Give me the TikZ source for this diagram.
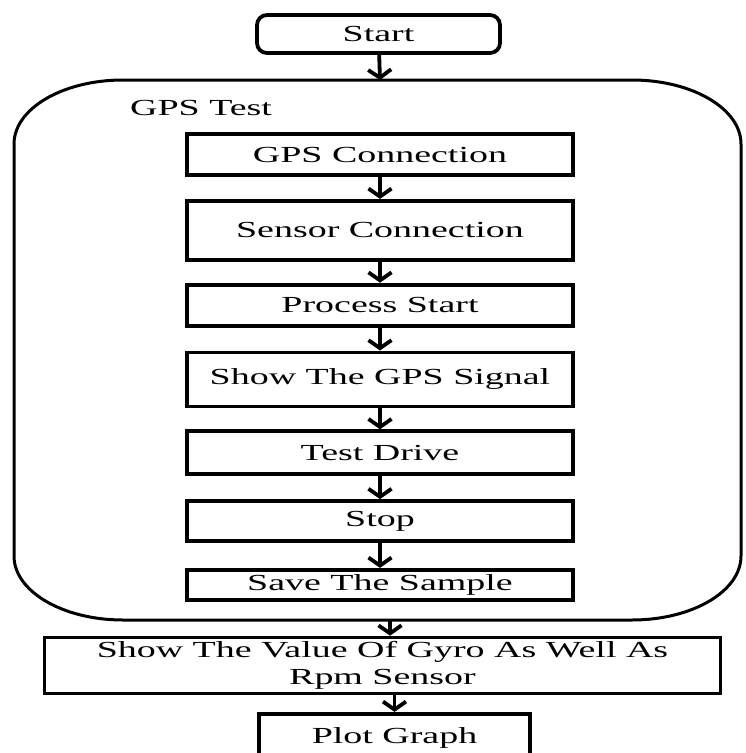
\documentclass[tikz,border=0pt]{standalone}
\usepackage{fontspec}
\setmainfont{Liberation Serif}[FakeStretch=1.65]
\usetikzlibrary{arrows.meta,positioning}

\begin{document}
\begin{tikzpicture}[x=1pt, y=1pt, node distance=22pt,
    every node/.style={font=\fontsize{23}{27}\selectfont},
    flowbox/.style={draw, line width=3.8pt, minimum width=386pt, inner sep=0pt, align=center},
    flowarrow/.style={line width=3.8pt, -{Straight Barb[length=8pt,width=23pt]}}]
  \useasboundingbox (0,0) rectangle (745,-753);

  \node[flowbox, rounded corners=10pt, minimum width=243pt, minimum height=38pt] (start) at (378.5,-34) {Start};

  % the GPS test block
  \coordinate (testtop) at (380,-80);
  \coordinate (testbot) at (390,-620);
  \draw[line width=3pt] (123,-80) -- (632,-80)
    arc[start angle=90, end angle=0, x radius=109, y radius=64] -- (741,-556)
    arc[start angle=0, end angle=-90, x radius=109, y radius=64] -- (123,-620)
    arc[start angle=270, end angle=180, x radius=109, y radius=64] -- (14,-144)
    arc[start angle=180, end angle=90, x radius=109, y radius=64] -- cycle;
  \node[anchor=west, inner sep=0pt] (testlabel) at (130,-108) {GPS Test};

  \node[flowbox, minimum height=41pt] (gps) at (380,-154.5) {GPS Connection};
  \node[flowbox, minimum height=59pt] (sensor) [below=22pt of gps] {Sensor Connection};
  \node[flowbox, minimum height=41pt] (process) [below=21pt of sensor] {Process Start};
  \node[flowbox, minimum height=54pt] (signal) [below=23pt of process] {Show The GPS Signal};
  \node[flowbox, minimum height=43pt] (drive) [below=21pt of signal] {Test Drive};
  \node[flowbox, minimum height=40pt] (stop) [below=23pt of drive] {Stop};
  \node[flowbox, minimum height=30pt] (save) [below=25pt of stop] {Save The Sample};

  \node[flowbox, line width=3.2pt, minimum width=676pt, minimum height=56pt] (gyro) [below=34pt of save, xshift=2.5pt]
    {Show The Value Of Gyro As Well As\\Rpm Sensor};
  \node[flowbox, minimum width=271pt, minimum height=48pt] (plot) [below=17pt of gyro, xshift=12pt] {Plot Graph};

  \draw[flowarrow] (start) -- (testtop);
  \draw[flowarrow] (gps) -- (sensor);
  \draw[flowarrow] (sensor) -- (process);
  \draw[flowarrow] (process) -- (signal);
  \draw[flowarrow] (signal) -- (drive);
  \draw[flowarrow] (drive) -- (stop);
  \draw[flowarrow] (stop) -- (save);
  \draw[flowarrow] (testbot) -- (testbot |- gyro.north);
  \draw[flowarrow] (plot.north |- gyro.south) -- (plot.north);
\end{tikzpicture}
\end{document}
